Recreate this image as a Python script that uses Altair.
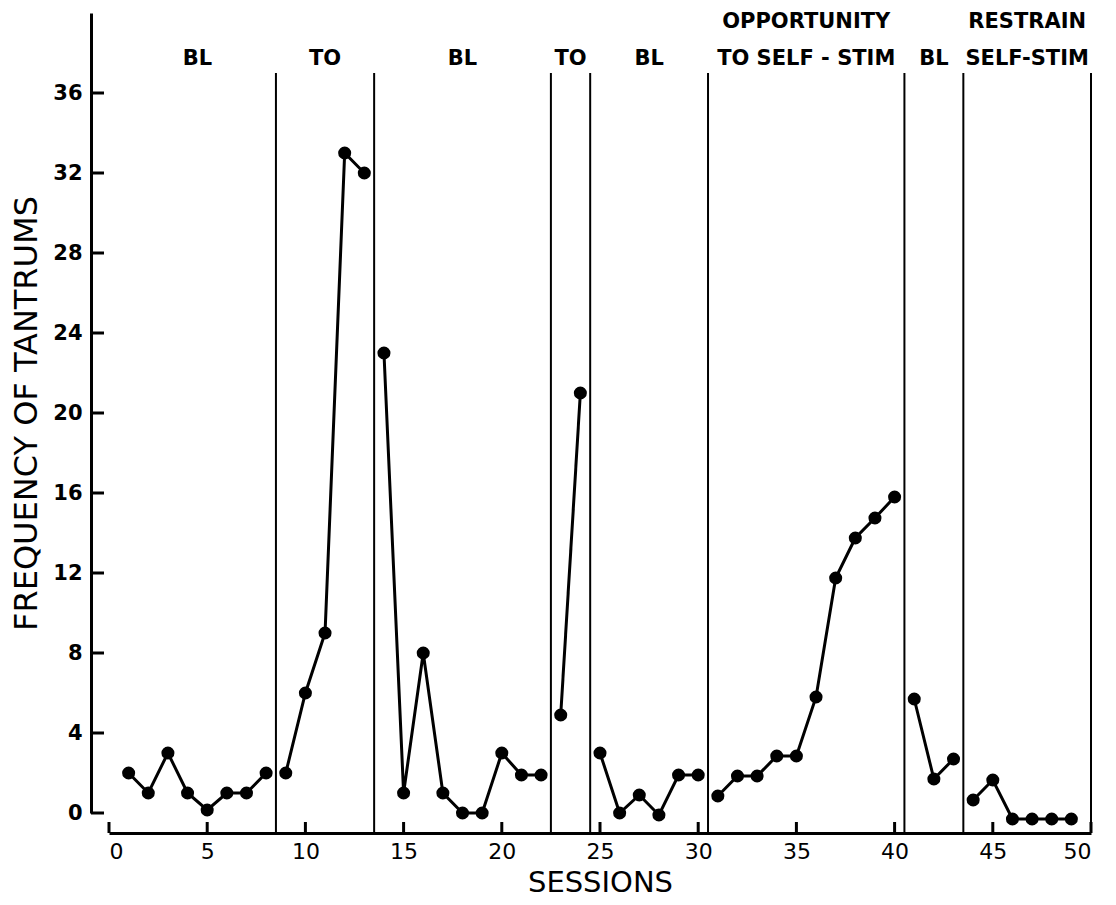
import altair as alt
import pandas as pd

# ---- data ----
sessions = list(range(1, 50))
tantrums = [2, 1, 3, 1, 0.15, 1, 1, 2,
            2, 6, 9, 33, 32,
            23, 1, 8, 1, 0, 0, 3, 1.9, 1.9,
            4.9, 21,
            3, 0, 0.9, -0.1, 1.9, 1.9,
            0.85, 1.85, 1.85, 2.85, 2.85, 5.8, 11.75, 13.75, 14.75, 15.8,
            5.7, 1.7, 2.7,
            0.65, 1.65, -0.3, -0.3, -0.3, -0.3]
phase_bounds = [0.5, 8.5, 13.5, 22.5, 24.5, 30.5, 40.5, 43.5, 50]
phase_top = ["", "", "", "", "", "OPPORTUNITY", "", "RESTRAIN"]
phase_bottom = ["BL", "TO", "BL", "TO", "BL", "TO SELF - STIM", "BL", "SELF-STIM"]
x_ticks = list(range(0, 51, 5))
y_ticks = list(range(0, 37, 4))

# ---- tables ----
def phase_of(s):
    for i in range(len(phase_bounds) - 1):
        if phase_bounds[i] < s < phase_bounds[i + 1]:
            return i
    return len(phase_bounds) - 2

df = pd.DataFrame({"session": sessions, "tantrums": tantrums,
                   "phase": [phase_of(s) for s in sessions]})
rules_df = pd.DataFrame({"b": phase_bounds[1:]})
labels_df = pd.DataFrame({
    "center": [(phase_bounds[i] + phase_bounds[i + 1]) / 2 for i in range(len(phase_bottom))],
    "top": phase_top,
    "bottom": phase_bottom,
})
xt_df = pd.DataFrame({"t": x_ticks})
yt_df = pd.DataFrame({"t": y_ticks})

W, H = 982, 800
FONT = "DejaVu Sans"

xs = alt.Scale(domain=[0, 50], nice=False, zero=False)
ys = alt.Scale(domain=[0, 40], nice=False, zero=False)

x_axis = alt.Axis(values=x_ticks, ticks=False, grid=False, offset=20,
                  domainColor="black", domainWidth=3, labelColor="black",
                  labelFont=FONT, labelFontSize=22, labelPadding=8,
                  title="SESSIONS", titleFont=FONT, titleFontSize=29,
                  titleFontWeight="normal", titleColor="black", titlePadding=6)
y_axis = alt.Axis(values=y_ticks, ticks=False, grid=False, offset=18,
                  domainColor="black", domainWidth=3, labelColor="black",
                  labelFont=FONT, labelFontSize=21, labelFontWeight="bold",
                  labelPadding=9,
                  title="FREQUENCY OF TANTRUMS", titleFont=FONT, titleFontSize=32,
                  titleFontWeight="normal", titleColor="black", titlePadding=9)

base = alt.Chart(df)
line = base.mark_line(color="black", strokeWidth=3).encode(
    x=alt.X("session:Q", scale=xs, axis=x_axis),
    y=alt.Y("tantrums:Q", scale=ys, axis=y_axis),
    detail="phase:N",
)
points = base.mark_circle(color="black", size=170, opacity=1).encode(
    x=alt.X("session:Q", scale=xs),
    y=alt.Y("tantrums:Q", scale=ys),
)
phase_rules = alt.Chart(rules_df).mark_rule(color="black", strokeWidth=2).encode(
    x=alt.X("b:Q", scale=xs),
    y=alt.datum(37),
    y2=alt.datum(-1),
)
x_tick_marks = alt.Chart(xt_df).mark_rule(color="black", strokeWidth=3).encode(
    x=alt.X("t:Q", scale=xs),
    y=alt.value(H + 20),
    y2=alt.value(H + 9),
)
y_tick_marks = alt.Chart(yt_df).mark_rule(color="black", strokeWidth=3).encode(
    y=alt.Y("t:Q", scale=ys),
    x=alt.value(-18),
    x2=alt.value(-5),
)
label_bottom = alt.Chart(labels_df).mark_text(
    font=FONT, fontSize=21, fontWeight="bold", color="black", baseline="middle"
).encode(
    x=alt.X("center:Q", scale=xs),
    y=alt.datum(37.7),
    text="bottom:N",
)
label_top = alt.Chart(labels_df).mark_text(
    font=FONT, fontSize=21, fontWeight="bold", color="black", baseline="middle"
).encode(
    x=alt.X("center:Q", scale=xs),
    y=alt.datum(39.55),
    text="top:N",
)

chart = alt.layer(
    phase_rules, line, points, x_tick_marks, y_tick_marks, label_bottom, label_top
).properties(
    width=W, height=H,
    padding={"left": 2, "top": 3, "right": 10, "bottom": 5},
    background="white",
).configure_view(stroke=None)

chart.save("out.html", embed_options={"renderer": "svg", "actions": False})
